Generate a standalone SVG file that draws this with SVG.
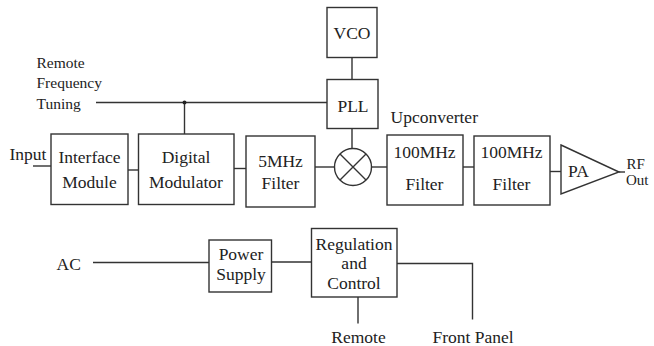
<svg xmlns="http://www.w3.org/2000/svg" width="654" height="346" viewBox="0 0 654 346" font-family="Liberation Serif, DejaVu Serif, serif">
<style>
.b{fill:#fff;stroke:#333;stroke-width:1.4}
.w{fill:none;stroke:#333;stroke-width:1.4}
text{font-size:17.5px;fill:#222}
.c{text-anchor:middle}
.s{font-size:15.5px}
.r{font-size:15px}
</style>
<rect width="654" height="346" fill="#fff"/>
<g id="connectors">
<path class="w" d="M33 166H51"/>
<path class="w" d="M128 170H139"/>
<path class="w" d="M234 168.5H246"/>
<path class="w" d="M315 167H334.5"/>
<path class="w" d="M96 102.5H327"/>
<path class="w" d="M184.5 102.5V134"/>
<circle cx="184.5" cy="102.5" r="2" fill="#222"/>
<path class="w" d="M352 57V79"/>
<path class="w" d="M352 128V148.5"/>
<path class="w" d="M371.5 167H387"/>
<path class="w" d="M463 167H474"/>
<path class="w" d="M550 171.5H561"/>
<path class="w" d="M619 172H625"/>
<path class="w" d="M93 262.5H209"/>
<path class="w" d="M271 262H311"/>
<path class="w" d="M397 263.5H472.5V319.5"/>
<path class="w" d="M358 297V323.5"/>
</g>
<g id="interface">
<rect class="b" x="51" y="134" width="77" height="70.5"/>
<text class="c" x="89.5" y="163" font-family="Liberation Serif">Interface</text>
<text class="c" x="89.5" y="188">Module</text>
</g>
<g id="modulator">
<rect class="b" x="138.5" y="134" width="95.5" height="70.5"/>
<text class="c" x="186" y="163">Digital</text>
<text class="c" x="186" y="187.5">Modulator</text>
</g>
<g id="filter5">
<rect class="b" x="246" y="136" width="69" height="71"/>
<text class="c" x="280.5" y="167">5MHz</text>
<text class="c" x="280.5" y="188.5">Filter</text>
</g>
<g id="vco">
<rect class="b" x="327" y="7.5" width="50" height="50"/>
<text class="c" x="352" y="39">VCO</text>
</g>
<g id="pll">
<rect class="b" x="327" y="79.5" width="51" height="49"/>
<text class="c" x="353" y="111.5">PLL</text>
</g>
<g id="mixer">
<circle class="b" cx="353" cy="167" r="18.5"/>
<path class="w" d="M340 154L366 180M366 154L340 180"/>
</g>
<g id="upconv">
<text x="390.5" y="123">Upconverter</text>
</g>
<g id="filter100a">
<rect class="b" x="387" y="135" width="76" height="70"/>
<text class="c" x="424.5" y="158">100MHz</text>
<text class="c" x="424.5" y="190">Filter</text>
</g>
<g id="filter100b">
<rect class="b" x="474" y="136" width="76" height="69"/>
<text class="c" x="511.5" y="158">100MHz</text>
<text class="c" x="511.5" y="190">Filter</text>
</g>
<g id="pa">
<polygon class="b" points="561,145 619,172 561,194"/>
<text x="568" y="177">PA</text>
</g>
<g id="rfout">
<text class="r" x="626.5" y="169">RF</text>
<text class="r" x="626" y="184.5">Out</text>
</g>
<g id="input"><text x="9.5" y="159.5">Input</text></g>
<g id="rft">
<text class="s" x="36.5" y="67.5">Remote</text>
<text class="s" x="36.5" y="88">Frequency</text>
<text class="s" x="36.5" y="108.5">Tuning</text>
</g>
<g id="ac"><text x="56.5" y="270">AC</text></g>
<g id="power">
<rect class="b" x="209" y="240" width="62.5" height="52"/>
<text class="c" x="241" y="259.5">Power</text>
<text class="c" x="241" y="280">Supply</text>
</g>
<g id="regulation">
<rect class="b" x="311.5" y="228.5" width="85.5" height="68.5"/>
<text class="c" x="354" y="250">Regulation</text>
<text class="c" x="354" y="269">and</text>
<text class="c" x="354" y="288.5">Control</text>
</g>
<g id="remote"><text class="c" x="358.5" y="343">Remote</text></g>
<g id="frontpanel"><text class="c" x="473" y="343">Front Panel</text></g>
</svg>
